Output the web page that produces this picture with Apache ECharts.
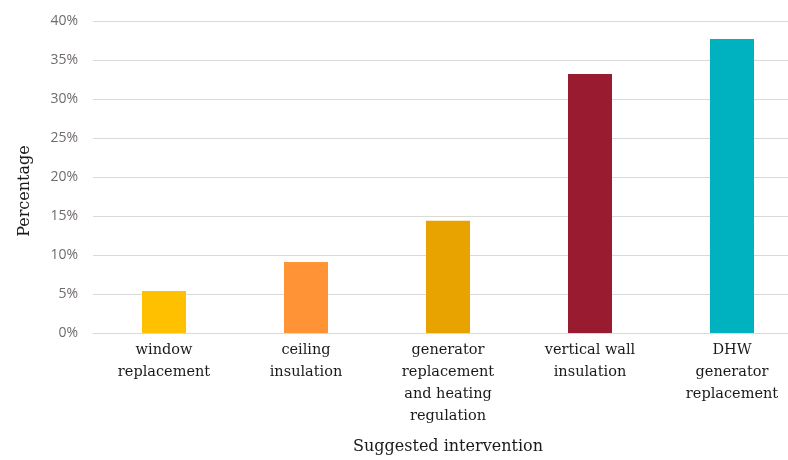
<!DOCTYPE html>
<html>
<head>
<meta charset="utf-8">
<script src="https://cdn.jsdelivr.net/npm/echarts@6/dist/echarts.min.js"></script>
<style>
  html, body { margin: 0; padding: 0; background: #ffffff; overflow: hidden; }
  /* the plot runs slightly past the right edge of the window */
  #chart { width: 803px; height: 460px; }
</style>
</head>
<body>
<div id="chart"></div>
<script>
// Share of buildings for which each intervention was suggested
const categories = [
  'window\nreplacement',
  'ceiling\ninsulation',
  'generator\nreplacement\nand heating\nregulation',
  'vertical wall\ninsulation',
  'DHW\ngenerator\nreplacement'
];
const percentages = [5.4, 9.1, 14.4, 33.2, 37.7];
const barColors = ['#ffc000', '#ff9335', '#e8a300', '#991b2f', '#00b1bf'];

const yMin = 0;
const yMax = 40;
const yStep = 5;

const serif = '"DejaVu Serif", "Liberation Serif", serif';

const chart = echarts.init(document.getElementById('chart'), null, { renderer: 'canvas' });

chart.setOption({
  animation: false,
  backgroundColor: '#ffffff',
  grid: { left: 93, top: 21, width: 710, height: 315, containLabel: false },
  xAxis: {
    type: 'category',
    data: categories,
    name: 'Suggested intervention',
    nameLocation: 'middle',
    nameGap: 106,
    nameTextStyle: { fontFamily: serif, fontSize: 16, color: '#1a1a1a' },
    axisLine: { lineStyle: { color: '#d9d9d9', width: 1 } },
    axisTick: { show: false },
    axisLabel: {
      interval: 0,
      margin: 6,
      fontFamily: serif,
      fontSize: 14.5,
      lineHeight: 22,
      color: '#1a1a1a'
    }
  },
  yAxis: {
    type: 'value',
    min: yMin,
    max: yMax,
    interval: yStep,
    name: 'Percentage',
    nameLocation: 'middle',
    nameGap: 60,
    nameTextStyle: {
      fontFamily: serif,
      fontSize: 16,
      color: '#1a1a1a',
      padding: [0, 28, 0, 0]
    },
    axisLine: { show: false },
    axisTick: { show: false },
    axisLabel: {
      formatter: '{value}%',
      margin: 15,
      fontFamily: '"Open Sans", "Liberation Sans", sans-serif',
      fontSize: 14,
      color: '#706b6b'
    },
    splitLine: { lineStyle: { color: '#d9d9d9', width: 1 } }
  },
  series: [{
    type: 'bar',
    barWidth: 44,
    data: percentages.map((v, i) => ({ value: v, itemStyle: { color: barColors[i] } }))
  }]
});
</script>
</body>
</html>
